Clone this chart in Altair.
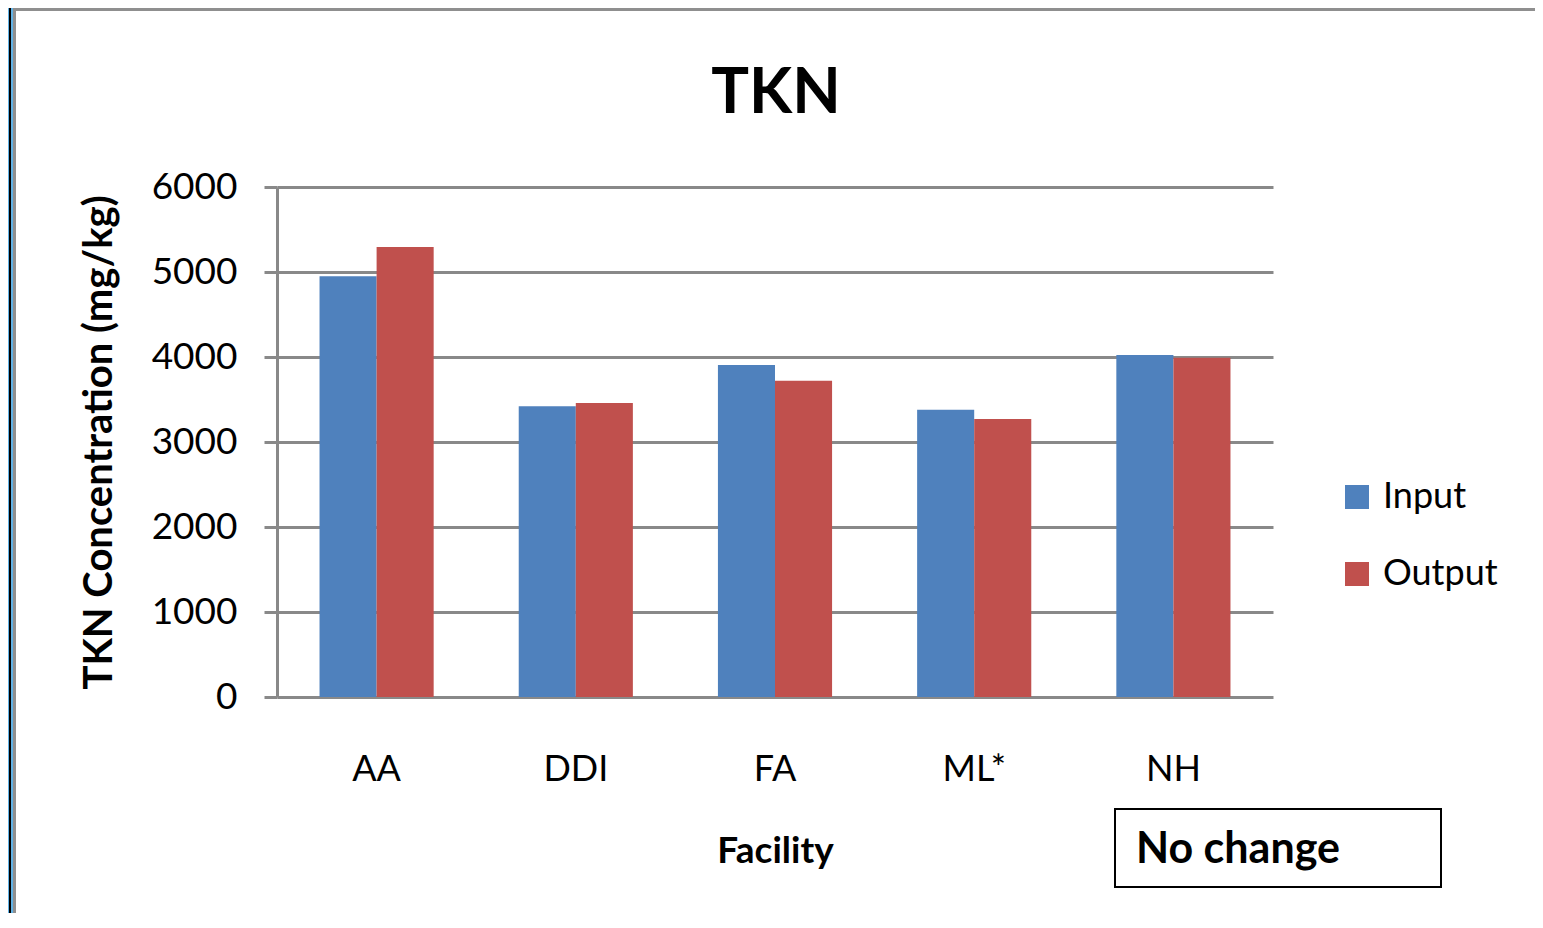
import altair as alt
import pandas as pd

categories = ["AA", "DDI", "FA", "ML*", "NH"]
input_values = [4950, 3420, 3905, 3380, 4025]
output_values = [5295, 3460, 3720, 3270, 3990]
series_names = ["Input", "Output"]
series_colors = ["#4F81BD", "#C0504D"]
y_ticks = [0, 1000, 2000, 3000, 4000, 5000, 6000]
chart_title = ["TKN"]
note_text = ["No change"]

df = pd.DataFrame({
    "Facility": categories * 2,
    "Series": [series_names[0]] * len(categories) + [series_names[1]] * len(categories),
    "Value": input_values + output_values,
})

W, H = 996, 510
FONT = "Lato"
GRID = "#898989"

bars = alt.Chart(df).mark_bar().encode(
    x=alt.X(
        "Facility:N",
        sort=categories,
        scale=alt.Scale(paddingInner=0.427, paddingOuter=0.2135),
        axis=alt.Axis(
            title="Facility",
            labelAngle=0,
            labelFont=FONT,
            labelFontSize=36,
            labelColor="black",
            labelPadding=55,
            ticks=False,
            domain=False,
            titleFont=FONT,
            titleFontSize=37,
            titleFontWeight="bold",
            titleColor="black",
            titleY=165,
            titleBaseline="alphabetic",
        ),
    ),
    xOffset=alt.XOffset("Series:N", sort=series_names,
                        scale=alt.Scale(paddingInner=0, paddingOuter=0)),
    y=alt.Y(
        "Value:Q",
        scale=alt.Scale(domain=[0, 6000], nice=False),
        axis=alt.Axis(
            values=y_ticks,
            format="d",
            grid=True,
            gridColor=GRID,
            gridWidth=3,
            domainColor=GRID,
            domainWidth=3,
            tickColor=GRID,
            tickWidth=3,
            tickSize=13,
            labelFont=FONT,
            labelFontSize=37,
            labelColor="black",
            labelPadding=27,
            title="TKN Concentration (mg/kg)",
            titleFont=FONT,
            titleFontSize=40,
            titleFontWeight="bold",
            titleColor="black",
            titleAngle=270,
            titleX=-166,
            titleY=255,
            titleAlign="center",
            titleBaseline="alphabetic",
        ),
    ),
    color=alt.Color(
        "Series:N",
        scale=alt.Scale(domain=series_names, range=series_colors),
        legend=alt.Legend(
            title=None,
            orient="none",
            legendX=1062,
            legendY=292,
            padding=0,
            symbolType="square",
            symbolSize=576,
            symbolStrokeWidth=0,
            labelFont=FONT,
            labelFontSize=36,
            labelColor="black",
            labelOffset=8,
            rowPadding=41,
            direction="vertical",
        ),
    ),
)

title_layer = alt.Chart(pd.DataFrame({"t": chart_title})).mark_text(
    font=FONT, fontSize=63, fontWeight="bold", color="black",
    align="center", baseline="alphabetic",
).encode(text="t:N", x=alt.value(499), y=alt.value(-74))

note_box = alt.Chart(pd.DataFrame({"t": note_text})).mark_rect(
    fill="white", stroke="black", strokeWidth=2,
).encode(x=alt.value(838), x2=alt.value(1164), y=alt.value(622), y2=alt.value(700))

note_label = alt.Chart(pd.DataFrame({"t": note_text})).mark_text(
    font=FONT, fontSize=43, fontWeight="bold", color="black",
    align="left", baseline="alphabetic",
).encode(text="t:N", x=alt.value(859), y=alt.value(676))

frame_df = pd.DataFrame({"t": [0]})
left_blue = alt.Chart(frame_df).mark_rect(fill="#63B3E6").encode(
    x=alt.value(-269), x2=alt.value(-263), y=alt.value(-179), y2=alt.value(726))
left_black = alt.Chart(frame_df).mark_rect(fill="black").encode(
    x=alt.value(-268), x2=alt.value(-266), y=alt.value(-179), y2=alt.value(726))
left_gray = alt.Chart(frame_df).mark_rect(fill="#8F8F8F").encode(
    x=alt.value(-264), x2=alt.value(-261), y=alt.value(-179), y2=alt.value(726))
top_gray = alt.Chart(frame_df).mark_rect(fill="#8F8F8F").encode(
    x=alt.value(-264), x2=alt.value(1258), y=alt.value(-179), y2=alt.value(-176))

chart = alt.layer(
    bars, title_layer, note_box, note_label,
    left_blue, left_black, left_gray, top_gray,
).properties(
    width=W,
    height=H,
    padding={"left": 269, "top": 179, "right": 262, "bottom": 216},
    autosize=alt.AutoSizeParams(type="none"),
    background="white",
).configure_view(stroke=None)

chart.save("out.html", embed_options={"renderer": "svg", "actions": False})
